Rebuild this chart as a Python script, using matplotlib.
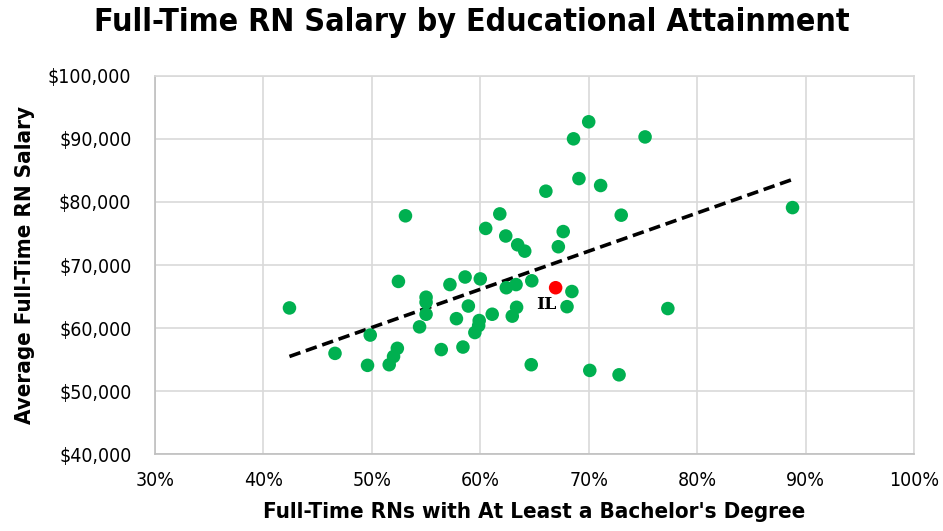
import numpy as np
import matplotlib
matplotlib.use("Agg")
import matplotlib.pyplot as plt
from matplotlib.ticker import FuncFormatter, MultipleLocator

# Share of full-time RNs with at least a bachelor's degree (%) and average salary ($k)
bsn_pct = [42.4, 46.6, 49.6, 49.85, 51.6, 52.0, 52.35, 53.1, 52.45, 54.4,
           55.0, 55.0, 55.0, 56.4, 57.2, 58.6, 60.0, 58.9, 57.8, 58.4,
           59.9, 59.85, 59.5, 61.1, 60.5, 61.8, 62.35, 63.45, 64.1, 62.4,
           63.3, 63.35, 62.95, 64.75, 64.7, 66.05, 67.2, 67.65, 68.45, 68.0,
           68.6, 70.0, 69.1, 71.1, 73.0, 70.1, 72.8, 75.2, 77.3, 88.8]
salary_k = [63.2, 56.0, 54.1, 58.9, 54.2, 55.5, 56.8, 77.8, 67.4, 60.2,
            64.9, 64.1, 62.2, 56.6, 66.9, 68.1, 67.8, 63.5, 61.5, 57.0,
            61.2, 60.4, 59.3, 62.2, 75.8, 78.1, 74.6, 73.2, 72.2, 66.4,
            66.9, 63.3, 61.9, 67.5, 54.2, 81.7, 72.9, 75.3, 65.8, 63.4,
            90.0, 92.7, 83.7, 82.6, 77.9, 53.3, 52.6, 90.3, 63.1, 79.1]
il_pct = [66.95]
il_salary_k = [66.4]
il_label = "IL"

title = "Full-Time RN Salary by Educational Attainment"
xlabel = "Full-Time RNs with At Least a Bachelor's Degree"
ylabel = "Average Full-Time RN Salary"

FONT = ["DejaVu Sans"]
plt.rcParams["font.family"] = FONT

fig = plt.figure(figsize=(9.43, 5.31), dpi=100)
ax = fig.add_axes([0.1644, 0.1444, 0.8048, 0.7130])

x = np.array(bsn_pct)
y = np.array(salary_k) * 1000
ax.scatter(x, y, s=95, color="#00B050", edgecolors="none", zorder=3)
ax.scatter(il_pct, np.array(il_salary_k) * 1000, s=95, color="#FF0000",
           edgecolors="none", zorder=4)
ax.annotate(il_label, (il_pct[0], il_salary_k[0] * 1000), xytext=(-7, -12),
            textcoords="offset points", ha="center", va="center",
            fontsize=12.5, fontweight="bold", family="DejaVu Serif", zorder=5)

# linear trendline over the data range
m, b = np.polyfit(x, y, 1)
xs = np.array([x.min(), x.max()])
ax.plot(xs, m * xs + b, color="black", lw=2.6, ls=(0, (3.2, 1.6)), zorder=2)

ax.set_xlim(30, 100)
ax.set_ylim(40000, 100000)
ax.xaxis.set_major_locator(MultipleLocator(10))
ax.yaxis.set_major_locator(MultipleLocator(10000))
ax.xaxis.set_major_formatter(FuncFormatter(lambda v, p: f"{v:.0f}%"))
ax.yaxis.set_major_formatter(FuncFormatter(lambda v, p: f"${v:,.0f}"))
ax.grid(True, color="#D9D9D9", lw=1.2, zorder=0)
ax.set_axisbelow(True)
for s in ["top", "right"]:
    ax.spines[s].set_color("#D9D9D9")
    ax.spines[s].set_linewidth(1.2)
for s in ["left", "bottom"]:
    ax.spines[s].set_color("#BFBFBF")
    ax.spines[s].set_linewidth(1.2)
ax.tick_params(length=0, labelsize=14, colors="black")
ax.tick_params(axis="x", pad=12)
ax.tick_params(axis="y", pad=17)
for lab in ax.get_xticklabels() + ax.get_yticklabels():
    lab.set_fontstretch("condensed")

fig.text(0.5, 0.958, title, ha="center", va="center", fontsize=23,
         fontweight="bold", fontstretch="condensed")
ax.set_xlabel(xlabel, fontsize=16, fontweight="bold", fontstretch="condensed",
              labelpad=9)
ax.set_ylabel(ylabel, fontsize=16, fontweight="bold", fontstretch="condensed",
              labelpad=9)

fig.savefig("out.png", dpi=100)
